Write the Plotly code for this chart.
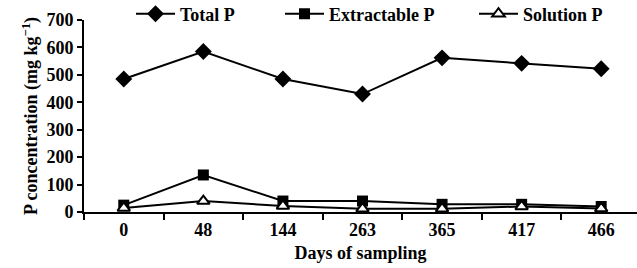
import plotly.graph_objects as go

days = ["0", "48", "144", "263", "365", "417", "466"]
total_p = [485, 585, 485, 430, 562, 542, 522]
extractable_p = [25, 135, 40, 40, 28, 28, 20]
solution_p = [15, 40, 22, 12, 12, 20, 13]

FONT = "Liberation Serif"

fig = go.Figure()
fig.add_trace(go.Scatter(
    x=days, y=total_p, name="Total P", mode="lines+markers",
    line=dict(color="black", width=2),
    marker=dict(symbol="diamond", size=13, color="black"),
    legend="legend"))
fig.add_trace(go.Scatter(
    x=days, y=extractable_p, name="Extractable P", mode="lines+markers",
    line=dict(color="black", width=2),
    marker=dict(symbol="square", size=11, color="black"),
    legend="legend2"))
fig.add_trace(go.Scatter(
    x=days, y=solution_p, name="Solution P", mode="lines+markers",
    line=dict(color="black", width=2),
    marker=dict(symbol="triangle-up", size=11, color="white",
                line=dict(color="black", width=2)),
    legend="legend3"))

leg = dict(orientation="h", yanchor="middle", xanchor="left",
           xref="container", yref="container", y=1 - 14 / 268,
           font=dict(family=FONT, size=18, color="black", weight="bold"),
           bgcolor="rgba(0,0,0,0)", itemwidth=39)

fig.update_layout(
    width=637, height=268,
    margin=dict(l=84, r=0, t=20, b=56, autoexpand=False),
    showlegend=True,
    paper_bgcolor="white", plot_bgcolor="white",
    font=dict(family=FONT, size=18, color="black", weight="bold"),
    legend=dict(leg, x=131 / 637),
    legend2=dict(leg, x=280 / 637),
    legend3=dict(leg, x=474 / 637),
    xaxis=dict(
        type="category", range=[-0.5, 6.45], automargin=False,
        tickson="boundaries", ticks="outside", ticklen=6, tickwidth=2,
        tickcolor="black", showline=True, linecolor="black", linewidth=2,
        showgrid=False, zeroline=False,
        tickfont=dict(family=FONT, size=18, color="black", weight="bold"),
        title=dict(text="Days of sampling", standoff=8,
                   font=dict(family=FONT, size=18, color="black", weight="bold")),
    ),
    yaxis=dict(
        range=[0, 700], tickvals=[0, 100, 200, 300, 400, 500, 600, 700],
        automargin=False,
        ticks="outside", ticklen=5, tickwidth=2, tickcolor="black",
        showline=True, linecolor="black", linewidth=2,
        showgrid=False, zeroline=False,
        tickfont=dict(family=FONT, size=18, color="black", weight="bold"),
        title=dict(text="P concentration (mg kg<sup>−1</sup>)", standoff=4,
                   font=dict(family=FONT, size=18, color="black", weight="bold")),
    ),
)

fig.write_html("out.html", config={"displayModeBar": False},
               post_script="document.body.style.margin='0';")
